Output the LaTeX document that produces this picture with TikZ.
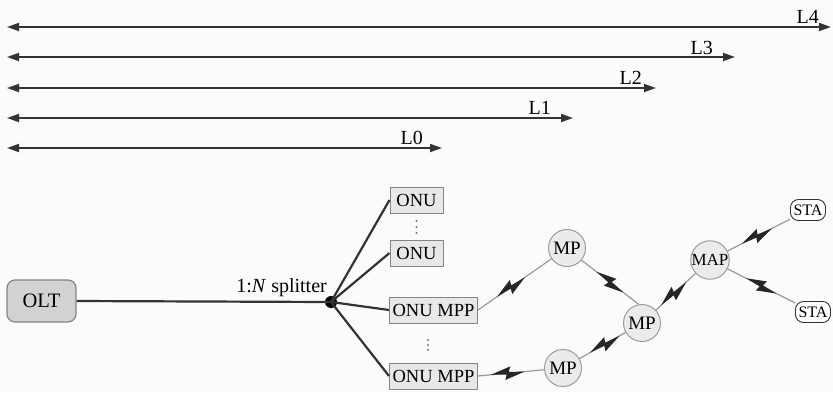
\documentclass[tikz,border=0pt]{standalone}
\usepackage{fontspec}
\setmainfont{Liberation Serif}
\usetikzlibrary{arrows.meta,decorations.markings}
\definecolor{paper}{HTML}{FBFBFB}
\definecolor{ink}{HTML}{333333}
\definecolor{boxfill}{HTML}{E8E8E8}
\definecolor{boxline}{HTML}{858585}
\definecolor{oltfill}{HTML}{D2D2D2}
\definecolor{nodefill}{HTML}{EBEBEB}
\definecolor{nodeline}{HTML}{9C9C9C}
\definecolor{radio}{HTML}{9A9A9A}
\definecolor{dotgray}{HTML}{777777}
\tikzset{
  span/.style={draw=ink, line width=1.8pt,
    {Triangle[length=12pt,width=8pt]}-{Triangle[length=12pt,width=8pt]}},
  spanlabel/.style={font=\fontsize{20}{20}\selectfont, inner sep=0pt, anchor=base east},
  oltbox/.style={draw=boxline, fill=oltfill, line width=1.2pt, rounded corners=8pt,
    minimum width=69pt, minimum height=42pt, inner sep=0pt, font=\fontsize{20.5}{20.5}\selectfont},
  onubox/.style={draw=boxline, fill=boxfill, line width=1pt, minimum height=26pt,
    inner sep=0pt, font=\fontsize{18.5}{18.5}\selectfont},
  meshnode/.style={circle, draw=nodeline, fill=nodefill, line width=1pt,
    minimum size=37pt, inner sep=0pt, font=\fontsize{19}{19}\selectfont},
  stabox/.style={draw=ink, fill=white, line width=0.9pt, rounded corners=8pt,
    minimum width=35pt, minimum height=21pt, inner sep=0pt, font=\fontsize{16}{16}\selectfont},
  fiber/.style={draw=ink, line width=2.2pt},
  wl/.style={draw=radio, line width=1.2pt, postaction={decorate,
    decoration={markings, mark=at position #1 with {
      \fill[black!85] (-17,0) -- (3,-6.5) -- (1.2,-1.2) -- (17,0) -- (-3,6.5) -- (-1.2,1.2) -- cycle;}}}},
  wl/.default=0.5
}
\begin{document}
\begin{tikzpicture}[x=1pt,y=-1pt]
\useasboundingbox (0,0) rectangle (833,392);
\fill[paper] (0,0) rectangle (833,392);

% reach of each level, all measured from the left edge
\coordinate (s4a) at (7,27);  \coordinate (s4b) at (831,27);
\coordinate (s3a) at (7,57);  \coordinate (s3b) at (735,57);
\coordinate (s2a) at (7,88);  \coordinate (s2b) at (656,88);
\coordinate (s1a) at (7,118); \coordinate (s1b) at (573,118);
\coordinate (s0a) at (7,148); \coordinate (s0b) at (442,148);
\draw[span] (s4a) -- (s4b);
\draw[span] (s3a) -- (s3b);
\draw[span] (s2a) -- (s2b);
\draw[span] (s1a) -- (s1b);
\draw[span] (s0a) -- (s0b);
\node[spanlabel] (t4) at (819,23) {L4};
\node[spanlabel] (t3) at (713,54) {L3};
\node[spanlabel] (t2) at (642,84) {L2};
\node[spanlabel] (t1) at (551,114) {L1};
\node[spanlabel] (t0) at (423,144) {L0};

% optical distribution network
\node[oltbox] (olt) at (41.5,301) {OLT};
\node[circle, fill=black, minimum size=12pt, inner sep=0pt] (sp) at (331,302) {};
\node[font=\fontsize{20}{20}\selectfont, inner sep=0pt, anchor=base east] (splab) at (327,292) {1:\textit{N} splitter};

\node[onubox, minimum width=53pt] (onu1) at (416.5,200) {ONU};
\node[onubox, minimum width=53pt] (onu2) at (416.5,253) {ONU};
\node[onubox, minimum width=88pt] (mpp1) at (433.5,310) {ONU MPP};
\node[onubox, minimum width=88pt] (mpp2) at (433.5,376) {ONU MPP};

\draw[fiber] (olt.east) -- (sp.center);
\draw[fiber] (sp.center) -- (onu1.west);
\draw[fiber] (sp.center) -- (onu2.west);
\draw[fiber] (sp.center) -- (mpp1.west);
\draw[fiber] (sp.center) -- (mpp2.west);

\foreach \y in {221,227,233} \fill[dotgray] (416.5,\y) circle (1.2);
\foreach \y in {340,345,350} \fill[dotgray] (428,\y) circle (1.2);

% wireless mesh
\node[meshnode] (mp1) at (567,248) {MP};
\node[meshnode] (mp2) at (642,323) {MP};
\node[meshnode] (mp3) at (563,368) {MP};
\node[meshnode, font=\fontsize{17}{17}\selectfont] (map) at (710,260) {MAP};
\node[stabox] (sta1) at (808,210) {STA};
\node[stabox] (sta2) at (813,312) {STA};

\draw[wl=0.45] (mpp1.east) -- (mp1);
\draw[wl=0.5] (mp1.-40) -- (mp2.100);
\draw[wl=0.55] (mp3) -- (mp2);
\draw[wl=0.45] (mpp2.east) -- (mp3);
\draw[wl=0.45] (mp2) -- (map);
\draw[wl=0.47] (map) -- (sta1);
\draw[wl=0.5] (map) -- (sta2);
\end{tikzpicture}
\end{document}
